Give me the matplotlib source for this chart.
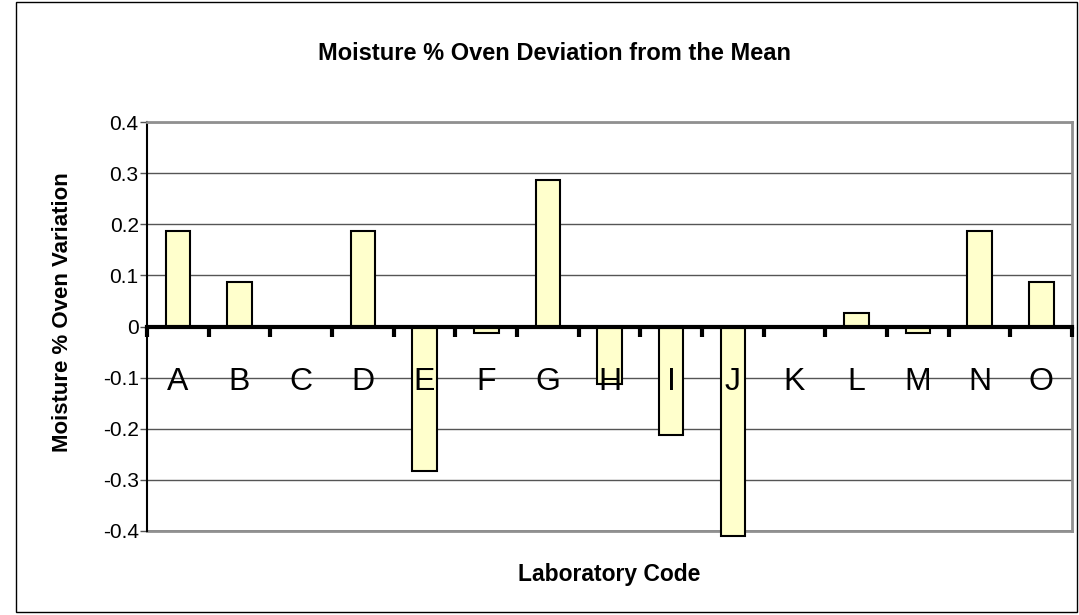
import matplotlib
matplotlib.use("Agg")
import matplotlib.pyplot as plt
from matplotlib.patches import Rectangle
from matplotlib.ticker import FixedLocator, NullFormatter

plt.rcParams['font.family'] = ['Liberation Sans', 'DejaVu Sans']

labs = ["A", "B", "C", "D", "E", "F", "G", "H", "I", "J", "K", "L", "M", "N", "O"]
vals = [0.187, 0.087, 0.0, 0.187, -0.283, -0.013, 0.287, -0.113, -0.213, -0.41,
        0.0, 0.027, -0.013, 0.187, 0.087]
yticks = [-0.4, -0.3, -0.2, -0.1, 0, 0.1, 0.2, 0.3, 0.4]
ytick_labels = ["-0.4", "-0.3", "-0.2", "-0.1", "0", "0.1", "0.2", "0.3", "0.4"]
title = "Moisture % Oven Deviation from the Mean"
xlabel = "Laboratory Code"
ylabel = "Moisture % Oven Variation"

W, H = 1079, 615
fig = plt.figure(figsize=(W / 100, H / 100), dpi=100)
fig.patch.set_facecolor("white")

# outer chart border
fig.add_artist(Rectangle((16 / W, 1 - 612 / H), (1077 - 16) / W, (612 - 2) / H,
                         transform=fig.transFigure, fill=False,
                         edgecolor="black", linewidth=1.0))

ax = fig.add_axes([147 / W, 1 - 531 / H, (1072 - 147) / W, (531 - 122) / H])
x = list(range(len(labs)))

bars = ax.bar(x, vals, width=0.4, color="#FFFFCC", edgecolor="black",
              linewidth=1.5, zorder=2)
for b in bars:
    b.set_clip_on(False)

ax.set_xlim(-0.5, len(labs) - 0.5)
ax.set_ylim(-0.4, 0.4)

# gridlines
ax.set_yticks(yticks)
ax.set_yticklabels(ytick_labels, fontsize=15)
ax.yaxis.grid(True, color="#555555", linewidth=1.0)
ax.yaxis.set_zorder(1)
ax.tick_params(axis="y", direction="out", length=5, width=1.0,
               color="#555555", pad=1)

# spines
for s in ["top", "right"]:
    ax.spines[s].set_color("#909090")
    ax.spines[s].set_linewidth(2)
ax.spines["left"].set_color("black")
ax.spines["left"].set_linewidth(1.5)
ax.spines["bottom"].set_position(("data", 0))
ax.spines["bottom"].set_color("black")
ax.spines["bottom"].set_linewidth(3)
ax.spines["bottom"].set_zorder(4)
# bottom border of plot area
ax.axhline(-0.4, color="#909090", linewidth=2, zorder=1, clip_on=False)

# x ticks: major at category boundaries, labels at centres
ax.xaxis.set_major_locator(FixedLocator([i - 0.5 for i in range(len(labs) + 1)]))
ax.xaxis.set_major_formatter(NullFormatter())
ax.xaxis.set_minor_locator(FixedLocator(x))
ax.set_xticklabels(labs, minor=True, fontsize=23)
ax.tick_params(axis="x", which="major", direction="out", length=7, width=3,
               color="black")
ax.tick_params(axis="x", which="minor", length=0, pad=29)
ax.xaxis.set_zorder(5)

ax.set_facecolor("white")

fig.text(555 / W, 1 - 53 / H, title, ha="center", va="center",
         fontsize=17, fontweight="bold")
fig.text(609 / W, 1 - 574 / H, xlabel, ha="center", va="center",
         fontsize=16.5, fontweight="bold")
fig.text(63 / W, 1 - 312 / H, ylabel, ha="center", va="center",
         rotation=90, fontsize=16, fontweight="bold")

fig.savefig("out.png", dpi=100)
